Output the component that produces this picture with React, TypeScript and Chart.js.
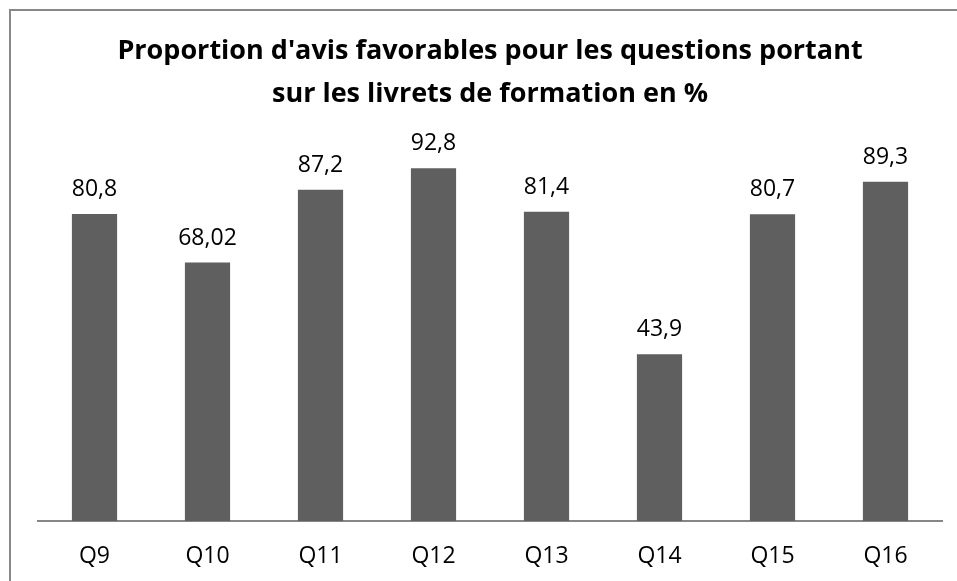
import React, { useEffect, useRef } from "react";
import { Chart, registerables } from "chart.js";

Chart.register(...registerables);

const categories = ["Q9", "Q10", "Q11", "Q12", "Q13", "Q14", "Q15", "Q16"];
const values = [80.8, 68.02, 87.2, 92.8, 81.4, 43.9, 80.7, 89.3];
const titleLines = [
  "Proportion d'avis favorables pour les questions portant",
  "sur les livrets de formation en %",
];

const FONT = "'Open Sans', sans-serif";

const labelPlugin = {
  id: "barLabels",
  afterDatasetsDraw(chart: any) {
    const ctx = chart.ctx;
    const meta = chart.getDatasetMeta(0);
    ctx.save();
    ctx.font = `23px ${FONT}`;
    ctx.fillStyle = "#000";
    ctx.textAlign = "center";
    ctx.textBaseline = "alphabetic";
    meta.data.forEach((bar: any, i: number) => {
      const txt = String(values[i]).replace(".", ",");
      ctx.fillText(txt, bar.x, bar.y - 18);
    });
    ctx.restore();
  },
};

export default function App() {
  const ref = useRef<HTMLCanvasElement>(null);
  useEffect(() => {
    if (!ref.current) return;
    const chart = new Chart(ref.current, {
      type: "bar",
      data: {
        labels: categories,
        datasets: [
          {
            data: values,
            backgroundColor: "#5f5f5f",
            barPercentage: 0.4,
            categoryPercentage: 1,
          },
        ],
      },
      options: {
        animation: false,
        responsive: false,
        layout: { padding: { left: 38, right: 15, top: 0, bottom: 0 } },
        plugins: {
          legend: { display: false },
          tooltip: { enabled: false },
          title: {
            display: true,
            text: titleLines,
            color: "#000",
            font: { family: FONT, size: 27, weight: "bold", lineHeight: "43px" as any },
            padding: { top: 29.5, bottom: 25.5 },
          },
        },
        scales: {
          x: {
            grid: { display: false, drawTicks: false },
            border: { display: true, color: "#868686", width: 2 },
            ticks: { color: "#000", font: { family: FONT, size: 23 }, padding: 22 },
            afterFit: (scale: any) => {
              scale.height = 60;
            },
          },
          y: { display: false, min: 0, max: 100 },
        },
      },
      plugins: [labelPlugin],
    });
    return () => chart.destroy();
  }, []);
  return (
    <div style={{ position: "absolute", left: 0, top: 0, width: 957, height: 581, background: "#fff", overflow: "hidden" }}>
      <div
        style={{
          position: "absolute",
          left: 9,
          top: 9,
          right: -10,
          bottom: -10,
          borderLeft: "2px solid #888",
          borderTop: "2px solid #888",
        }}
      />
      <canvas ref={ref} width={957} height={581} style={{ position: "absolute", left: 0, top: 0 }} />
    </div>
  );
}
